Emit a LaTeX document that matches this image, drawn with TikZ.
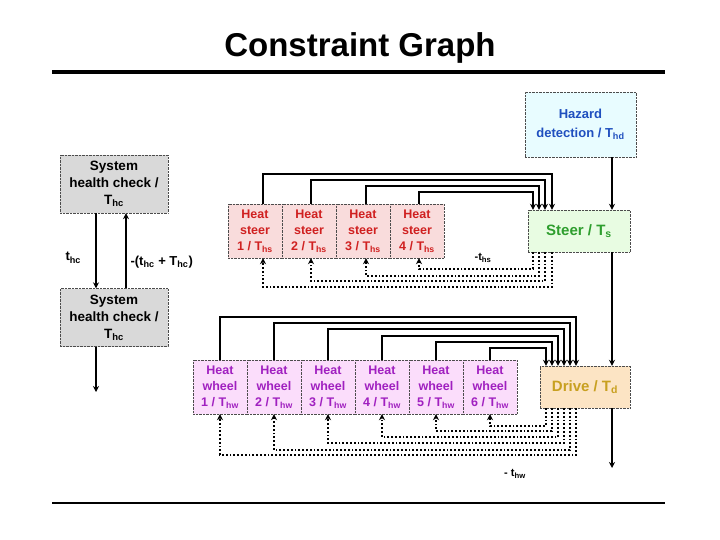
\documentclass[tikz,border=0pt]{standalone}
\usepackage{fontspec}
\setmainfont{Liberation Sans}
\usetikzlibrary{arrows.meta}
\definecolor{pinkf}{HTML}{F9DCDC}\definecolor{pinkt}{HTML}{D02020}
\definecolor{grnf}{HTML}{E8FCE2}\definecolor{grnt}{HTML}{2E9E2E}
\definecolor{cyf}{HTML}{E8FCFF}\definecolor{cyt}{HTML}{1F4FBF}
\definecolor{vf}{HTML}{FBDDFB}\definecolor{vt}{HTML}{A020C0}
\definecolor{orf}{HTML}{FCE4C4}\definecolor{ort}{HTML}{C8A020}
\definecolor{gryf}{HTML}{D9D9D9}
\begin{document}
\begin{tikzpicture}[x=1pt,y=-1pt,
  box/.style={draw=black!70,densely dotted,inner sep=0pt,align=center,font=\bfseries\fontsize{12.5}{16}\selectfont},
  hs/.style={box,fill=pinkf,text=pinkt,minimum width=54pt,minimum height=54pt},
  hw/.style={box,fill=vf,text=vt,minimum width=54pt,minimum height=54pt},
  hc/.style={box,fill=gryf,text=black,minimum width=108pt,minimum height=58pt,font=\bfseries\fontsize{13.5}{17}\selectfont},
  arr/.style={line width=1.8pt,-{Stealth[length=6pt,width=6pt]}},
  dar/.style={line width=1.8pt,dotted,-{Stealth[length=6pt,width=6pt]}},
  lbl/.style={font=\bfseries\fontsize{13}{15}\selectfont}]
\useasboundingbox (0,0) rectangle (720,540);
\node[font=\bfseries\fontsize{33}{36}\selectfont] (title) at (360,48) {Constraint Graph};
\draw[line width=3.5pt] (52,72) -- (665,72);
\draw[line width=2pt] (52,503) -- (665,503);
\node[box,fill=cyf,text=cyt,minimum width=111pt,minimum height=65pt,font=\bfseries\fontsize{13}{19}\selectfont] (haz) at (580.5,124.5) {Hazard\\detection / T\textsubscript{hd}};
\node[box,fill=grnf,text=grnt,minimum width=102pt,minimum height=42pt,font=\bfseries\fontsize{15}{17}\selectfont] (steer) at (579,231) {Steer / T\textsubscript{s}};
\node[box,fill=orf,text=ort,minimum width=90pt,minimum height=42pt,font=\bfseries\fontsize{15}{17}\selectfont] (drive) at (585,387) {Drive / T\textsubscript{d}};
\coordinate (v) at (612,0);
\foreach \i in {1,...,4}{
  \node[hs] (s\i) at ({228+27+54*(\i-1)},231) {Heat\\steer\\\i{} / T\textsubscript{hs}};}
\foreach \i in {1,...,6}{
  \node[hw] (w\i) at ({193+27+54*(\i-1)},387) {Heat\\wheel\\\i{} / T\textsubscript{hw}};}
\node[hc] (hc1) at (114,184) {System\\health check /\\T\textsubscript{hc}};
\node[hc] (hc2) at (114,317.5) {System\\health check /\\T\textsubscript{hc}};
\coordinate (d1) at (96,0); \coordinate (d2) at (126,0);
\draw[arr] (hc1.south -| d1) -- (hc2.north -| d1);
\draw[arr] (hc2.north -| d2) -- (hc1.south -| d2);
\coordinate (hcend) at (96,392);
\draw[arr] (hc2.south -| d1) -- (hcend);
\node[lbl,anchor=west] (l1) at (62,258) {t\textsubscript{hc}};
\node[lbl,anchor=west] (l2) at (127,262) {-(t\textsubscript{hc} + T\textsubscript{hc})};
\draw[arr] (haz.south -| v) -- (steer.north -| v);
\draw[arr] (steer.south -| v) -- (drive.north -| v);
\coordinate (dend) at (612,468);
\draw[arr] (drive.south -| v) -- (dend);
\foreach \i/\xo/\top/\tx/\bot in {1/8/174/552/287, 2/2/180/545/281, 3/3/186/539/276, 4/2/192/533/269}{
  \coordinate (t\i) at (\tx,0);
  \draw[arr] ([xshift=\xo pt]s\i.north) |- (\tx,\top) -- (steer.north -| t\i);
  \draw[dar] (steer.south -| t\i) |- ([xshift=\xo pt]s\i.south |- 0,\bot) -- ([xshift=\xo pt]s\i.south);
}
\node[lbl,font=\bfseries\fontsize{11}{12}\selectfont] (ths) at (483,258) {-t\textsubscript{hs}};
\foreach \i/\top/\tx/\bot in {1/317/576/455, 2/323/570/450, 3/329/564/443, 4/336/558/437, 5/342/552/431, 6/348/546/426}{
  \coordinate (u\i) at (\tx,0);
  \draw[arr] (w\i.north) |- (\tx,\top) -- (drive.north -| u\i);
  \draw[dar] (drive.south -| u\i) |- (w\i.south |- 0,\bot) -- (w\i.south);
}
\node[lbl,font=\bfseries\fontsize{11}{12}\selectfont] (thw) at (515,474) {- t\textsubscript{hw}};
\end{tikzpicture}
\end{document}
